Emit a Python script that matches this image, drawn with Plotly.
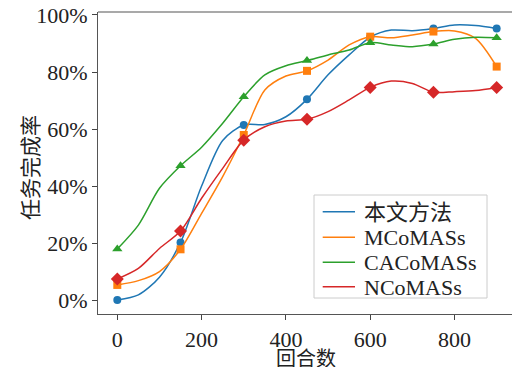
import plotly.graph_objects as go

rounds = [0, 50, 100, 150, 200, 250, 300, 350, 400, 450, 500, 550, 600, 650, 700, 750, 800, 850, 900]
ours = [0.0, 1.8, 8.0, 20.2, 40.0, 56.0, 61.4, 61.6, 64.3, 70.4, 79.0, 86.0, 92.2, 94.7, 94.5, 95.3, 96.5, 96.3, 95.3]
mcomass = [5.3, 6.8, 10.0, 17.8, 30.4, 43.3, 57.9, 73.7, 78.6, 80.4, 84.2, 89.5, 92.4, 92.0, 93.0, 94.2, 94.4, 91.8, 81.9]
cacomass = [17.9, 26.3, 39.2, 47.1, 53.6, 62.0, 71.3, 79.0, 82.2, 84.0, 86.0, 87.7, 90.3, 89.5, 88.9, 89.8, 91.5, 92.2, 92.0]
ncomass = [7.4, 11.1, 18.1, 24.2, 35.7, 46.2, 56.1, 60.8, 62.8, 63.4, 66.1, 70.2, 74.6, 76.8, 76.0, 72.9, 73.1, 73.5, 74.6]

names = ["本文方法", "MCoMASs", "CACoMASs", "NCoMASs"]
colors = ["#1f77b4", "#ff7f0e", "#2ca02c", "#d62728"]
symbols = ["circle", "square", "triangle-up", "diamond"]
marker_sizes = [8, 8, 9, 10]
series = [ours, mcomass, cacomass, ncomass]
x_ticks = [0, 200, 400, 600, 800]
y_ticks = [0, 20, 40, 60, 80, 100]
y_tick_text = ["0%", "20%", "40%", "60%", "80%", "100%"]
x_title = "回合数"
y_title = "任务完成率"

W, H = 512, 367
ML, MT, MB, MR = 98, 12, 53, 0
PW, PH = W - ML - MR, H - MT - MB


def px(x):
    return (x - ML) / PW


def py(y):
    return (H - MB - y) / PH


fig = go.Figure()
for name, col, sym, ms, vals in zip(names, colors, symbols, marker_sizes, series):
    fig.add_trace(go.Scatter(x=rounds, y=vals, mode="lines", name=name,
                             line=dict(color=col, width=1.5, shape="spline", smoothing=0.8),
                             showlegend=False, hoverinfo="skip"))
    fig.add_trace(go.Scatter(x=rounds[::3], y=vals[::3], mode="markers", name=name,
                             marker=dict(color=col, symbol=sym, size=ms),
                             showlegend=False))

serif = "Liberation Serif, Times New Roman, Noto Sans CJK SC, serif"
cjk = "Noto Sans CJK SC"

shapes = [
    dict(type="line", xref="paper", yref="paper", x0=0, x1=1, y0=1, y1=1,
         line=dict(color="#555", width=1.2)),
    # legend box
    dict(type="rect", xref="paper", yref="paper", x0=px(314), x1=px(487), y0=py(298), y1=py(195),
         line=dict(color="#cccccc", width=1), fillcolor="rgba(255,255,255,0.85)", layer="above"),
]
annotations = [
    dict(text=x_title, xref="paper", yref="paper", x=px(306), y=py(357), xanchor="center", yanchor="middle",
         showarrow=False, font=dict(family=cjk, size=20, color="#222")),
    dict(text=y_title, xref="paper", yref="paper", x=px(29), y=py(168), xanchor="center", yanchor="middle",
         textangle=-90, showarrow=False, font=dict(family=cjk, size=21, color="#222")),
]
row_y = [211.7, 237.3, 262.3, 286.7]
for name, col, ry in zip(names, colors, row_y):
    shapes.append(dict(type="line", xref="paper", yref="paper", x0=px(322.7), x1=px(355),
                       y0=py(ry), y1=py(ry), line=dict(color=col, width=1.5), layer="above"))
    annotations.append(dict(text=name, xref="paper", yref="paper", x=px(361.5), y=py(ry + 0.5),
                            xanchor="left", yanchor="middle", showarrow=False,
                            font=dict(family=serif, size=22, color="#222")))

fig.update_layout(
    width=W, height=H,
    margin=dict(l=ML, r=MR, t=MT, b=MB, autoexpand=False),
    paper_bgcolor="white", plot_bgcolor="white",
    font=dict(family=serif, size=22, color="#222"),
    showlegend=False,
    xaxis=dict(range=[-45.8, 936.4], tickvals=x_ticks, ticks="outside", ticklen=5,
               tickcolor="#444", showline=True, linecolor="#555", linewidth=1.2, mirror=False,
               showgrid=False, zeroline=False, automargin=False, ticklabeloverflow="allow"),
    yaxis=dict(range=[-4.9, 101.05], tickvals=y_ticks, ticktext=y_tick_text, ticks="outside", ticklen=5,
               tickcolor="#444", showline=True, linecolor="#555", linewidth=1.2,
               showgrid=False, zeroline=False, automargin=False, ticklabeloverflow="allow"),
    shapes=shapes,
    annotations=annotations,
)
fig.write_html("out.html", config={"displayModeBar": False},
               post_script="document.body.style.margin='0px';")
